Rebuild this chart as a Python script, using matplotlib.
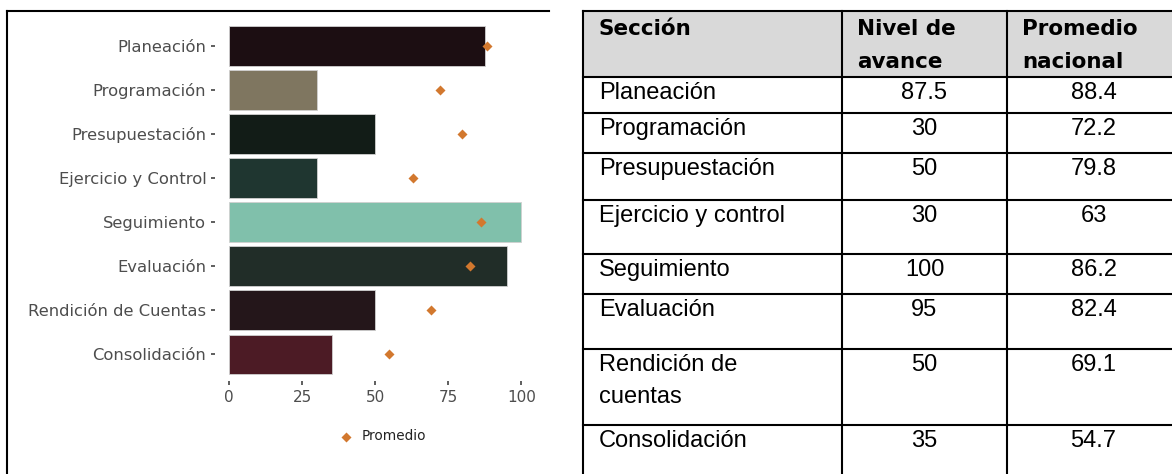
import matplotlib
matplotlib.use("Agg")
import matplotlib.pyplot as plt

# datos de la grafica
secciones = ["Planeación", "Programación", "Presupuestación", "Ejercicio y Control",
             "Seguimiento", "Evaluación", "Rendición de Cuentas", "Consolidación"]
avance = [87.5, 30, 50, 30, 100, 95, 50, 35]
promedio = [88.4, 72.2, 79.8, 63, 86.2, 82.4, 69.1, 54.7]
colores = ["#1c0e12", "#7f7660", "#121c17", "#1f3630",
           "#80c0ab", "#212d28", "#24161a", "#4c1b25"]
xticks = [0, 25, 50, 75, 100]

# datos de la tabla
encabezados = ["Sección", "Nivel de\navance", "Promedio\nnacional"]
tabla_secciones = ["Planeación", "Programación", "Presupuestación", "Ejercicio y control",
                   "Seguimiento", "Evaluación", "Rendición de\ncuentas", "Consolidación"]
tabla_avance = ["87.5", "30", "50", "30", "100", "95", "50", "35"]
tabla_promedio = ["88.4", "72.2", "79.8", "63", "86.2", "82.4", "69.1", "54.7"]

W, H = 1172, 474
fig = plt.figure(figsize=(W / 100, H / 100), dpi=100)

# capa de fondo en pixeles para la tabla
bg = fig.add_axes([0, 0, 1, 1])
bg.set_xlim(0, W)
bg.set_ylim(H, 0)
bg.axis("off")

row_tops = [77, 113, 153, 200, 254, 294, 349, 425]
cols = [583, 842, 1007]
lw = 1.5

bg.fill_between([583, W], 11, 77, color="#d9d9d9", lw=0)
bg.plot([7, 549], [11, 11], color="black", lw=lw)
bg.plot([583, W], [11, 11], color="black", lw=lw)
bg.plot([7, 7], [11, H], color="black", lw=lw)
for c in cols:
    bg.plot([c, c], [11, H], color="black", lw=lw)
for t in row_tops:
    bg.plot([583, W], [t, t], color="black", lw=lw)

# encabezados
for c, txt in zip(cols, encabezados):
    for k, linea in enumerate(txt.split("\n")):
        bg.text(c + 15, 35 + k * 33, linea, fontsize=15.5, fontweight="bold",
                family="DejaVu Sans", color="black", va="baseline", ha="left")

# filas
centro2 = 924.5
centro3 = 1093.5
for t, s, a, p in zip(row_tops, tabla_secciones, tabla_avance, tabla_promedio):
    base = t + 22
    for k, linea in enumerate(s.split("\n")):
        bg.text(599, base + k * 32, linea, fontsize=17, family="Liberation Sans",
                color="black", va="baseline", ha="left")
    bg.text(centro2, base, a, fontsize=17, family="Liberation Sans",
            color="black", va="baseline", ha="center")
    bg.text(centro3, base, p, fontsize=17, family="Liberation Sans",
            color="black", va="baseline", ha="center")

# grafica de barras
left, right = 214.7, 535.9
top, bottom = 19.2, 380.9
ax = fig.add_axes([left / W, 1 - bottom / H, (right - left) / W, (bottom - top) / H])
ax.patch.set_alpha(0)
y = list(range(len(secciones)))
ax.barh(y, avance, height=0.9, color=colores, edgecolor="#d0d0d0", linewidth=0.6)
pts = ax.scatter(promedio, y, marker="D", s=26, color="#d2782e", zorder=3,
                 label="Promedio", linewidths=0)
ax.set_xlim(-5, 105)
ax.set_ylim(len(secciones) - 0.4, -0.6)
ax.set_yticks(y)
ax.set_yticklabels(secciones, family="DejaVu Sans", fontsize=11.8, color="#4d4d4d")
ax.set_xticks(xticks)
ax.set_xticklabels([str(v) for v in xticks], family="DejaVu Sans", fontsize=11,
                   color="#4d4d4d")
ax.tick_params(axis="y", length=3, width=1.1, color="#333333", pad=3)
ax.tick_params(axis="x", length=3, width=1.1, color="#333333", pad=3.5)
for sp in ax.spines.values():
    sp.set_visible(False)

fig.legend(handles=[pts], loc="center", bbox_to_anchor=(382.5 / W, 1 - 436.5 / H),
           frameon=False, handlelength=1, handletextpad=0.6,
           prop={"family": "DejaVu Sans", "size": 9.8}, labelcolor="#222222")

fig.savefig("out.png", dpi=100)
